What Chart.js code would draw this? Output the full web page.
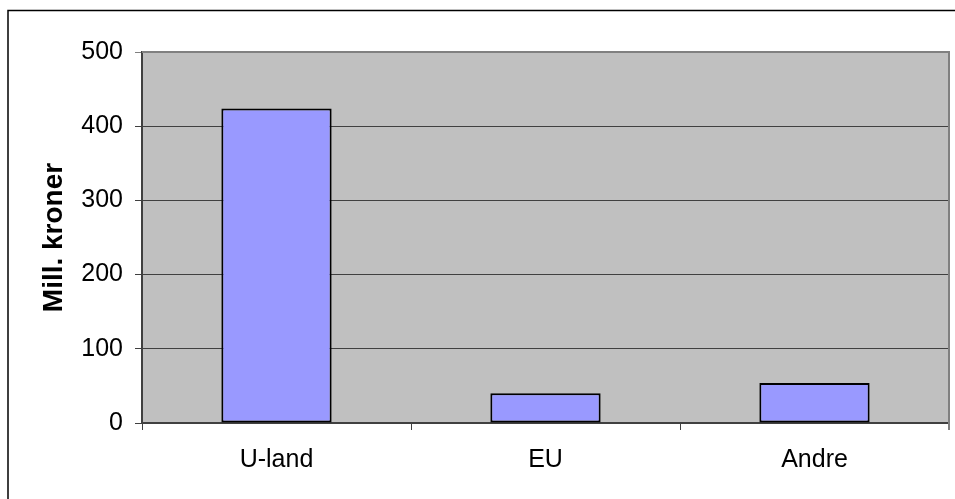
<!DOCTYPE html>
<html>
<head>
<meta charset="utf-8">
<script src="https://cdn.jsdelivr.net/npm/chart.js@4/dist/chart.umd.min.js"></script>
<style>
  html, body { margin: 0; padding: 0; background: #fff; }
  #wrap { width: 955px; height: 499px; }
</style>
</head>
<body>
<div id="wrap"><canvas id="chart"></canvas></div>
<script>
const categories = ['U-land', 'EU', 'Andre'];
const values = [424, 40, 54];
const yTicks = [0, 100, 200, 300, 400, 500];

// plot background, frame and the grey top/right border
const excelLook = {
    id: 'excelLook',
    beforeDraw(chart) {
        const { ctx, chartArea: a } = chart;
        ctx.save();
        ctx.fillStyle = '#C0C0C0';
        ctx.fillRect(a.left, a.top, a.right - a.left, a.bottom - a.top);
        ctx.restore();
    },
    afterDraw(chart) {
        const { ctx, chartArea: a } = chart;
        ctx.save();
        ctx.strokeStyle = '#808080';
        ctx.lineWidth = 2;
        ctx.beginPath();
        ctx.moveTo(a.left, a.top);
        ctx.lineTo(a.right, a.top);
        ctx.lineTo(a.right, a.bottom + 7);
        ctx.stroke();
        ctx.strokeStyle = '#000';
        ctx.lineWidth = 1.5;
        ctx.strokeRect(8, 10.5, 1000, 1000);
        ctx.restore();
    }
};

const ctx = document.getElementById('chart').getContext('2d');

const chart = new Chart(ctx, {
    type: 'bar',
    data: {
        labels: categories,
        datasets: [{
            data: values,
            backgroundColor: '#9999FF',
            borderColor: '#000000',
            borderWidth: 2,
            borderSkipped: false,
            barPercentage: 0.41,
            categoryPercentage: 1
        }]
    },
    options: {
        responsive: true,
        maintainAspectRatio: false,
        animation: false,
        layout: { padding: { left: 8, top: 52, right: 6, bottom: 0 } },
        plugins: {
            legend: { display: false },
            tooltip: { enabled: false }
        },
        scales: {
            x: {
                offset: true,
                afterFit: (s) => { s.height = 76; },
                grid: {
                    offset: true,
                    drawOnChartArea: false,
                    color: '#404040',
                    tickLength: 7
                },
                border: { color: '#404040', width: 2 },
                ticks: {
                    color: '#000',
                    padding: 15,
                    font: { family: 'Liberation Sans, Arial', size: 25 }
                }
            },
            y: {
                min: 0,
                max: 500,
                afterFit: (s) => { s.width = 134; },
                afterBuildTicks: (s) => { s.ticks = yTicks.map(v => ({ value: v })); },
                grid: {
                    color: (c) => c.tick && c.tick.value === 500 ? '#808080' : '#404040',
                    tickLength: 7
                },
                border: { color: '#404040', width: 2 },
                ticks: {
                    color: '#000',
                    padding: 12,
                    font: { family: 'Liberation Sans, Arial', size: 25 }
                },
                title: {
                    display: true,
                    text: 'Mill. kroner',
                    color: '#000',
                    padding: { top: 29, bottom: 0 },
                    font: { family: 'Liberation Sans, Arial', size: 28, weight: 'bold' }
                }
            }
        }
    },
    plugins: [excelLook]
});
</script>
</body>
</html>
